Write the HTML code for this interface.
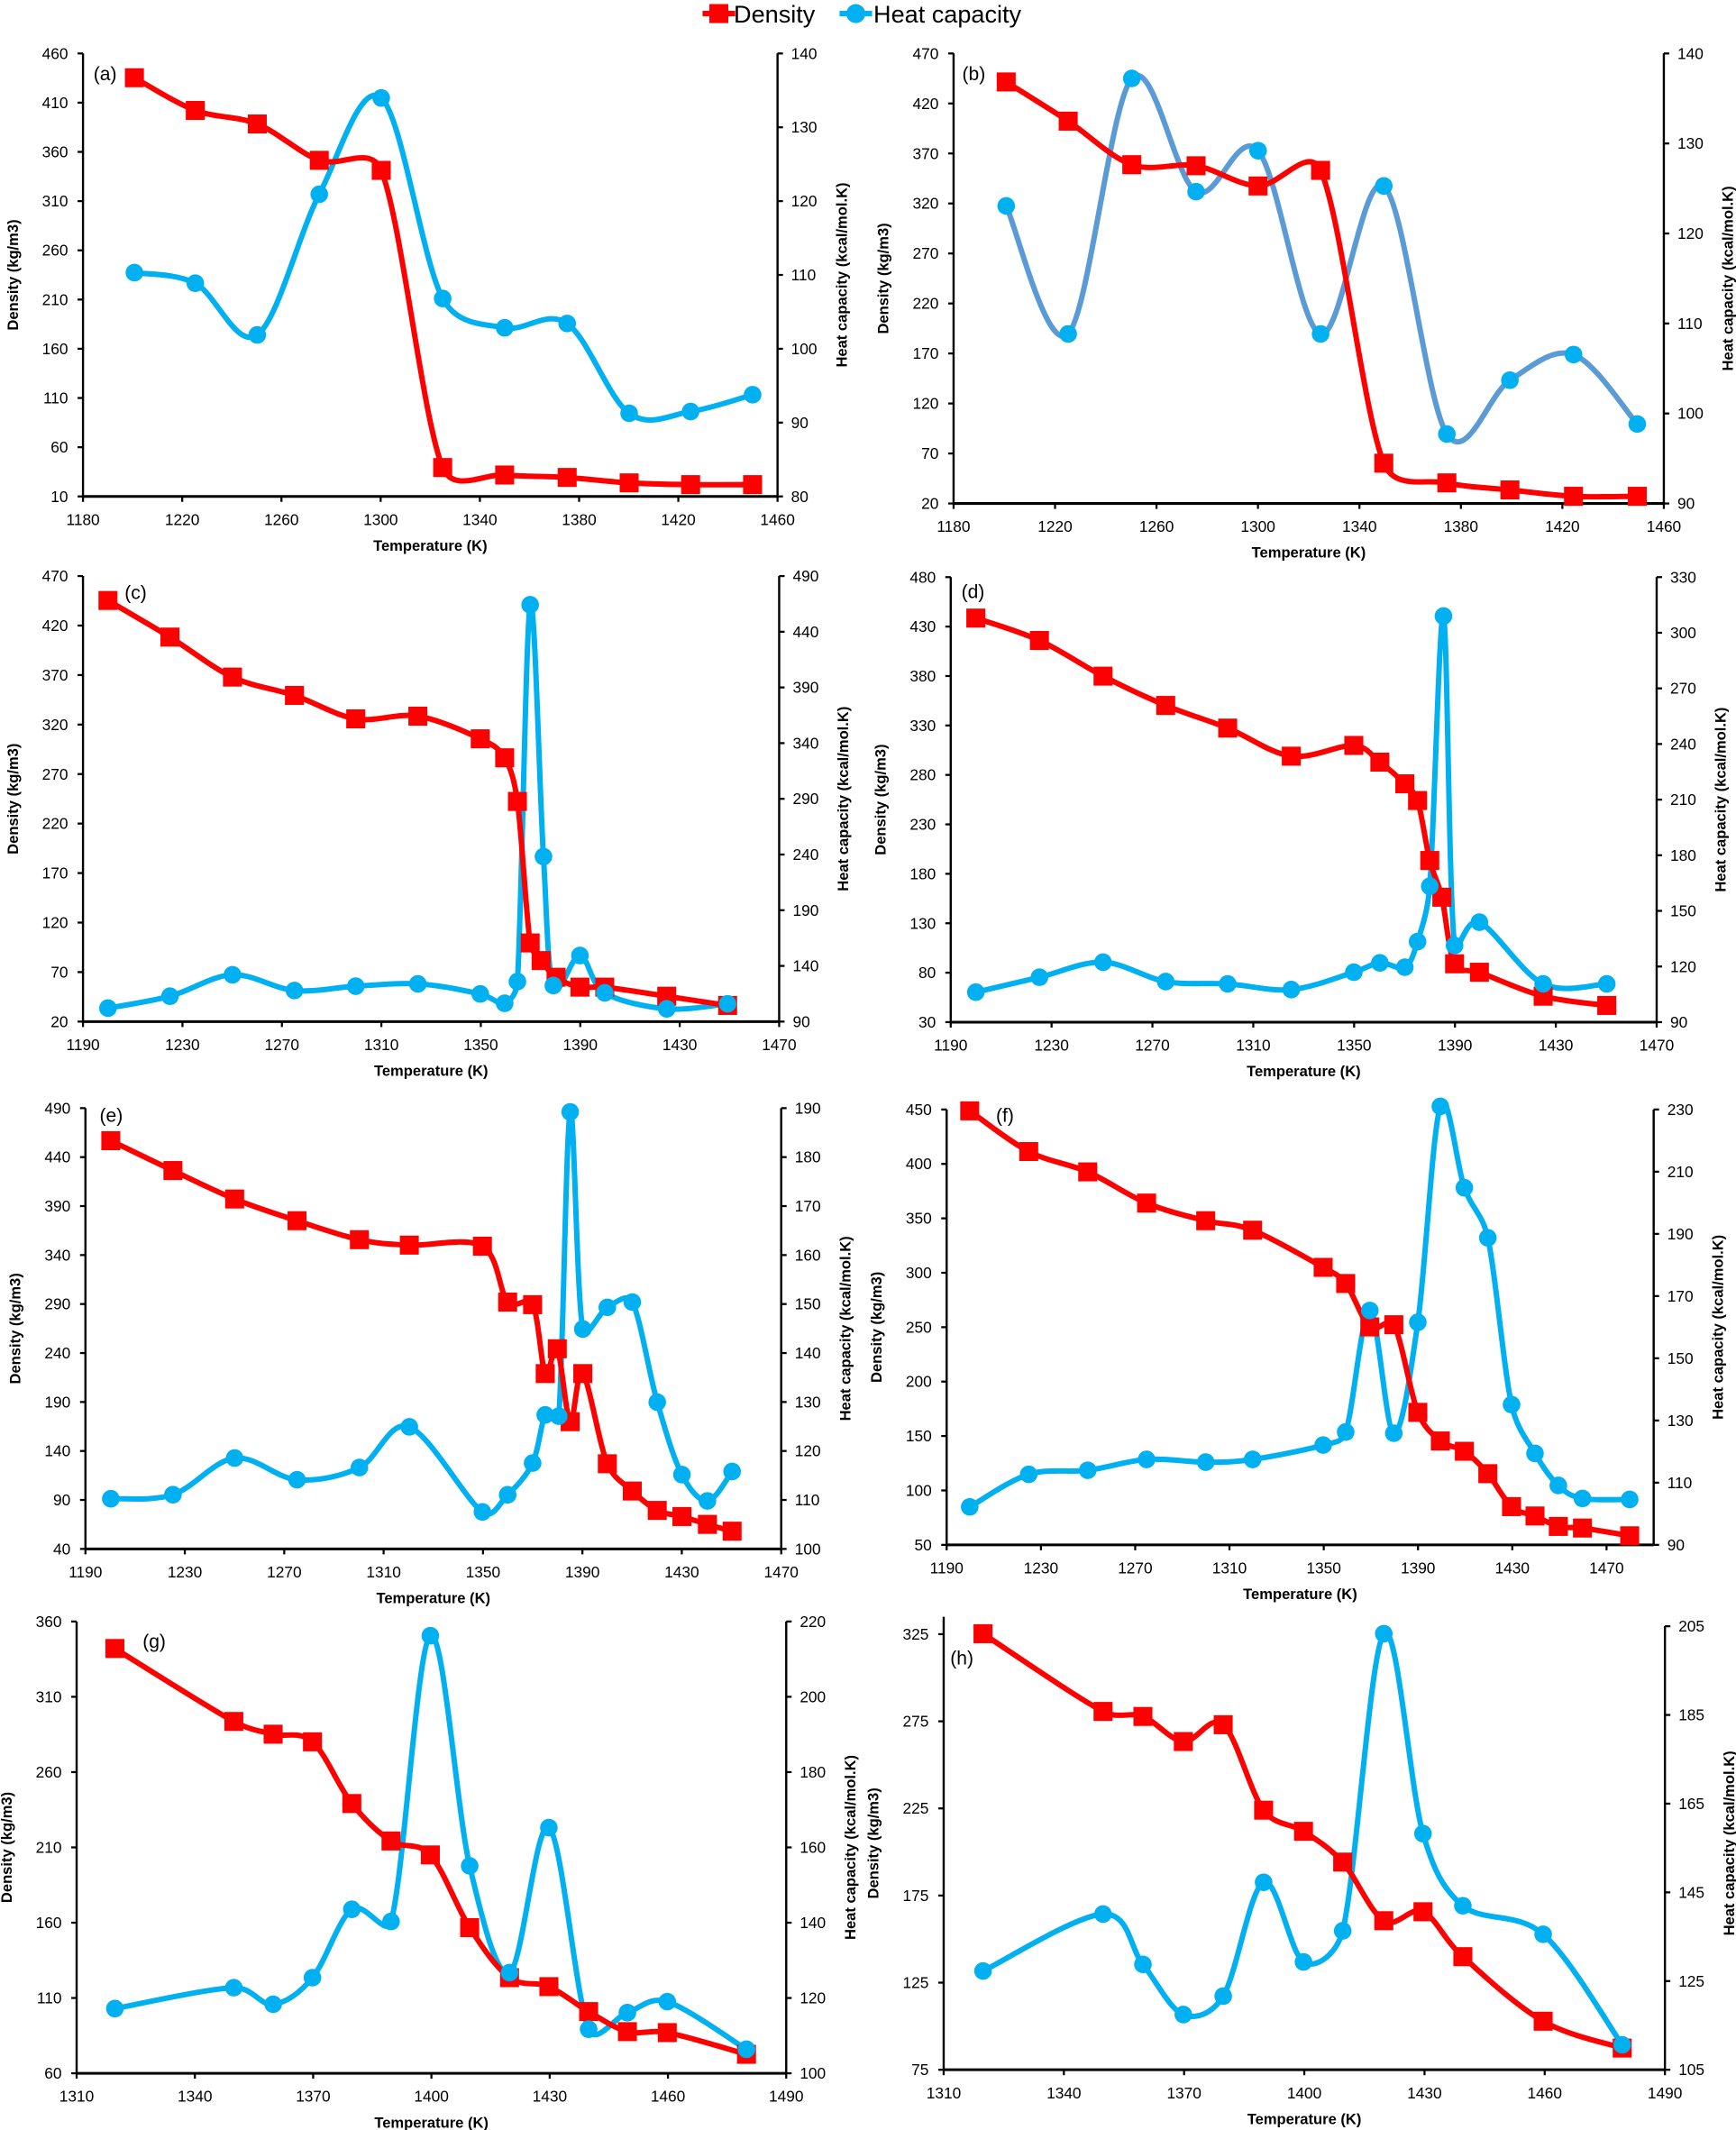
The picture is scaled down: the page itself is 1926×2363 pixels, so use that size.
<!DOCTYPE html>
<html><head><meta charset="utf-8"><style>
html,body{margin:0;padding:0;background:#fff;}
svg{display:block;}
text{font-family:"Liberation Sans",sans-serif;fill:#000;}
</style></head><body>
<svg id="s" xmlns="http://www.w3.org/2000/svg" width="1926" height="2363" viewBox="0 0 1280 1570.4"></svg>
<script>
const S=document.getElementById('s');let h='';
function clampv(v,maxL){const L=Math.hypot(v[0],v[1]);if(L>maxL&&L>0){return [v[0]*maxL/L,v[1]*maxL/L];}return v;}
function path(pts){let d='M'+pts[0][0]+','+pts[0][1];for(let i=0;i<pts.length-1;i++){const p0=pts[Math.max(i-1,0)],p1=pts[i],p2=pts[i+1],p3=pts[Math.min(i+2,pts.length-1)];const seg=Math.hypot(p2[0]-p1[0],p2[1]-p1[1]);let v1=clampv([(p2[0]-p0[0])/6,(p2[1]-p0[1])/6],seg*0.45);let v2=clampv([(p3[0]-p1[0])/6,(p3[1]-p1[1])/6],seg*0.45);const c1=[p1[0]+v1[0],p1[1]+v1[1]];const c2=[p2[0]-v2[0],p2[1]-v2[1]];d+=` C${c1[0].toFixed(1)},${c1[1].toFixed(1)} ${c2[0].toFixed(1)},${c2[1].toFixed(1)} ${p2[0].toFixed(1)},${p2[1].toFixed(1)}`;}return d;}
function panel(P){const{x0,x1,yT,yB}=P;
 h+=`<line x1="${x0}" y1="${yT}" x2="${x0}" y2="${yB}" stroke="#000" stroke-width="1.6"/>`;
 h+=`<line x1="${x1}" y1="${P.rT||yT}" x2="${x1}" y2="${yB}" stroke="#000" stroke-width="1.6"/>`;
 h+=`<line x1="${x0}" y1="${yB}" x2="${x1}" y2="${yB}" stroke="#000" stroke-width="2"/>`;
 const [xm,xM,xs,xl]=P.X;
 for(let v=xm;v<=xl+0.01;v+=xs){const x=x0+(v-xm)/(xM-xm)*(x1-x0);h+=`<line x1="${x}" y1="${yB}" x2="${x}" y2="${yB+4}" stroke="#000" stroke-width="1.5"/><text x="${x}" y="${yB+21}" font-size="11.5" text-anchor="middle">${v}</text>`;}
 const [lm,lM,ls,ll]=P.L;
 for(let v=lm;v<=ll+0.01;v+=ls){const y=yB-(v-lm)/(lM-lm)*(yB-yT);h+=`<line x1="${x0-4}" y1="${y}" x2="${x0}" y2="${y}" stroke="#000" stroke-width="1.5"/><text x="${x0-11}" y="${y+4}" font-size="11.5" text-anchor="end">${v}</text>`;}
 const [rm,rM,rs]=P.R;const rT=P.rT||yT;
 for(let v=rm;v<=rM+0.01;v+=rs){const y=yB-(v-rm)/(rM-rm)*(yB-rT);h+=`<line x1="${x1}" y1="${y}" x2="${x1+4}" y2="${y}" stroke="#000" stroke-width="1.5"/><text x="${x1+10}" y="${y+4}" font-size="11.5">${v}</text>`;}
 const cx=(x0+x1)/2;
 h+=`<text x="${cx}" y="${yB+40}" font-size="11" font-weight="bold" text-anchor="middle">Temperature (K)</text>`;
 const cy=(yT+yB)/2;
 h+=`<text transform="translate(${x0-48},${cy}) rotate(-90)" font-size="11" font-weight="bold" text-anchor="middle">Density (kg/m3)</text>`;
 h+=`<text transform="translate(${x1+51},${cy}) rotate(-90)" font-size="11" font-weight="bold" text-anchor="middle">Heat capacity (kcal/mol.K)</text>`;
 h+=`<text x="${P.lab[0]}" y="${P.lab[1]+5}" font-size="14" text-anchor="middle">${P.name}</text>`;
 h+=`<path d="${path(P.hc)}" fill="none" stroke="${P.hcol||'#00b0f0'}" stroke-width="4" stroke-linejoin="round"/>`;
 h+=`<path d="${path(P.d)}" fill="none" stroke="#ff0000" stroke-width="4" stroke-linejoin="round"/>`;
 for(const p of P.d)h+=`<rect x="${p[0]-7}" y="${p[1]-7}" width="14" height="14" fill="#ff0000"/>`;
 for(const p of P.hc)h+=`<circle cx="${p[0]}" cy="${p[1]}" r="6.5" fill="#00b0f0"/>`;
}
const P=[
{name:'(a)',lab:[77.5,54],x0:61.2,x1:573.3,yT:39.4,yB:366,X:[1180,1460,40,1460],L:[10,460,50,460],R:[80,140,10],
 d:[[99.1,57.3],[144,81.4],[189.7,91.4],[235.4,118.2],[281.1,125.6],[326.4,344.7],[372.1,350.2],[418.2,352],[463.9,356],[509.2,357.3],[554.9,357.3]],
 hc:[[99.1,201],[144,208.8],[189.7,246.9],[235.4,143.2],[281.1,72.2],[326.4,220.1],[372.1,241.7],[418.2,238.5],[463.9,304.7],[509.2,303.4],[554.9,291]]},
{name:'(b)',lab:[718,54],x0:703.1,x1:1226.8,yT:39.4,yB:371.2,X:[1180,1460,40,1460],L:[20,470,50,470],R:[90,140,10],hcol:'#5b9bd5',
 d:[[741.9,60.4],[787.6,89.3],[834.5,121.4],[881.9,122.2],[927.6,137.1],[973.7,125.6],[1020.3,341.5],[1066.8,356],[1113.3,361.2],[1160.2,365.9],[1207.2,365.9]],
 hc:[[741.9,151.8],[787.6,246.2],[834.5,57.8],[881.9,141.3],[927.6,111.1],[973.7,246.2],[1020.3,137.1],[1066.8,320],[1113.3,280.3],[1160.2,261.4],[1207.2,312.6]]},
{name:'(c)',lab:[100,436.5],x0:61.2,x1:574.5,yT:424.7,yB:753.2,X:[1190,1470,40,1470],L:[20,470,50,470],R:[90,490,50],
 d:[[79.6,442.7],[125.3,469.7],[171.4,499.2],[217.1,512.7],[262.3,530],[308.1,528],[354.1,544.7],[372.1,558.7],[381.5,590.9],[390.9,695.2],[399,708.2],[410,720.5],[427.6,727.8],[445.9,727.8],[491.6,734.5],[536.5,741.3]],
 hc:[[79.6,743.3],[125.3,734.5],[171.4,718.7],[217.1,730.3],[262.3,727.1],[308.1,725.4],[354.1,732.8],[372.1,739.7],[381.5,723.7],[390.9,445.9],[400.7,631.5],[408,726.6],[427.6,704.5],[445.9,732],[491.6,743.8],[536.5,740.1]]},
{name:'(d)',lab:[717.4,436],x0:701,x1:1221.5,yT:425.5,yB:753.6,X:[1190,1470,40,1470],L:[30,480,50,480],R:[90,330,30],
 d:[[719.5,455.7],[766.4,472.2],[813.3,498.5],[859.5,520.1],[905.2,536.8],[952.1,557.5],[998.2,549.6],[1017.4,561.9],[1035.8,577.9],[1045.2,590.2],[1054.2,634.4],[1063.1,661.5],[1072.5,710.6],[1090.8,716.8],[1137.8,734.5],[1184.7,741.3]],
 hc:[[719.5,731.5],[766.4,720.5],[813.3,709.4],[859.5,723.7],[905.2,725.4],[952.1,729.6],[998.2,716.8],[1017.4,709.9],[1035.8,713.1],[1045.2,694.2],[1054.2,653.4],[1064.3,454.2],[1072.5,697.1],[1090.8,679.9],[1137.8,725.4],[1184.7,725.4]]},
{name:'(e)',lab:[82,822],x0:63,x1:576,yT:817,yB:1142,X:[1190,1470,40,1470],L:[40,490,50,490],R:[100,190,10],
 d:[[81.7,841],[127.5,863],[173,884],[219,900],[265,914],[301.8,918],[355.7,918.8],[374.3,960],[392.7,961.9],[402,1012.7],[410.9,994.4],[420.4,1048.2],[429.7,1012.7],[447.8,1079.2],[466.2,1099.3],[484.6,1113.6],[502.8,1118.1],[521.6,1123.9],[539.8,1128.9]],
 hc:[[81.7,1105],[127.5,1102],[173,1075],[219,1091],[265,1082],[301.8,1052],[355.7,1114.7],[374.3,1102.1],[392.7,1078.7],[402,1043.2],[412,1044.1],[420.4,819.8],[429.7,979.9],[447.8,963.9],[466.2,960],[484.6,1033.8],[502.8,1087.2],[521.6,1106.6],[539.8,1084.9]]},
{name:'(f)',lab:[741,822],x0:698,x1:1219.3,yT:818,yB:1139,X:[1190,1490,40,1470],L:[50,450,50,450],R:[90,230,20],
 d:[[715,819],[758.5,849],[802,864],[845.4,887],[889,900],[923.6,907],[975.6,934.4],[992.2,946.3],[1010,978.3],[1027.7,976.7],[1045.4,1041.3],[1062,1062.4],[1079.7,1070],[1097,1086.5],[1114.5,1110.8],[1131.8,1117.7],[1149,1125.4],[1166.8,1126.6],[1201.6,1132.3]],
 hc:[[715,1111],[758.5,1087],[802,1084],[845.4,1076],[889,1078],[923.6,1076],[975.6,1065.4],[992.2,1055.8],[1010,966.2],[1027.7,1056.7],[1045.4,974.9],[1062,815.7],[1079.7,875.7],[1097,912.6],[1114.5,1035.6],[1131.8,1071.6],[1149,1095.2],[1166.8,1104.8],[1201.6,1105.5]]},
{name:'(g)',lab:[113.7,1209.8],x0:56.5,x1:579.7,yT:1195.5,yB:1528.6,X:[1310,1490,30,1490],L:[60,360,50,360],R:[100,220,20],
 d:[[84.7,1215.4],[172.4,1269.2],[201.4,1278.6],[230.4,1284.2],[259.4,1329.7],[288.3,1357.3],[317.3,1367.6],[346.3,1421.2],[375.7,1458.1],[404.7,1464.7],[434,1483.1],[462.6,1497.9],[492,1498.6],[550.4,1514.6]],
 hc:[[84.7,1480.9],[172.4,1465.5],[201.4,1477.7],[230.4,1458.1],[259.4,1407.7],[288.3,1416.7],[317.3,1206],[346.3,1375.7],[375.7,1454.4],[404.7,1347.5],[434,1496.1],[462.6,1483.9],[492,1475.8],[550.4,1510.9]]},
{name:'(h)',lab:[709.2,1222],x0:695.8,x1:1227.6,yT:1192,yB:1526,rT:1199,X:[1310,1490,30,1490],L:[75,335,50,325],R:[105,205,20],
 d:[[724.8,1204.5],[813.3,1261.8],[842.7,1265.5],[872.5,1284],[901.9,1271.6],[931.7,1334.6],[961.1,1350.2],[990,1372.9],[1020.3,1416.1],[1049.2,1409.5],[1078.6,1442.6],[1137.8,1490.2],[1196.1,1510]],
 hc:[[724.8,1453.2],[813.3,1411.2],[842.7,1448.3],[872.5,1485.3],[901.9,1471.7],[931.7,1387.8],[961.1,1446.5],[990,1423.6],[1020.3,1204.5],[1049.2,1351.9],[1078.6,1405.1],[1137.8,1426.1],[1196.1,1507.6]]}
];
P.forEach(panel);
h+=`<line x1="518" y1="10" x2="542" y2="10" stroke="#ff0000" stroke-width="4"/><rect x="523" y="3" width="14" height="14" fill="#ff0000"/>`;
h+=`<text x="541" y="16.5" font-size="18">Density</text>`;
h+=`<line x1="619" y1="10" x2="643" y2="10" stroke="#00b0f0" stroke-width="4"/><circle cx="631" cy="10" r="7" fill="#00b0f0"/>`;
h+=`<text x="644" y="16.5" font-size="18">Heat capacity</text>`;
S.innerHTML=h;
</script>
</body></html>
